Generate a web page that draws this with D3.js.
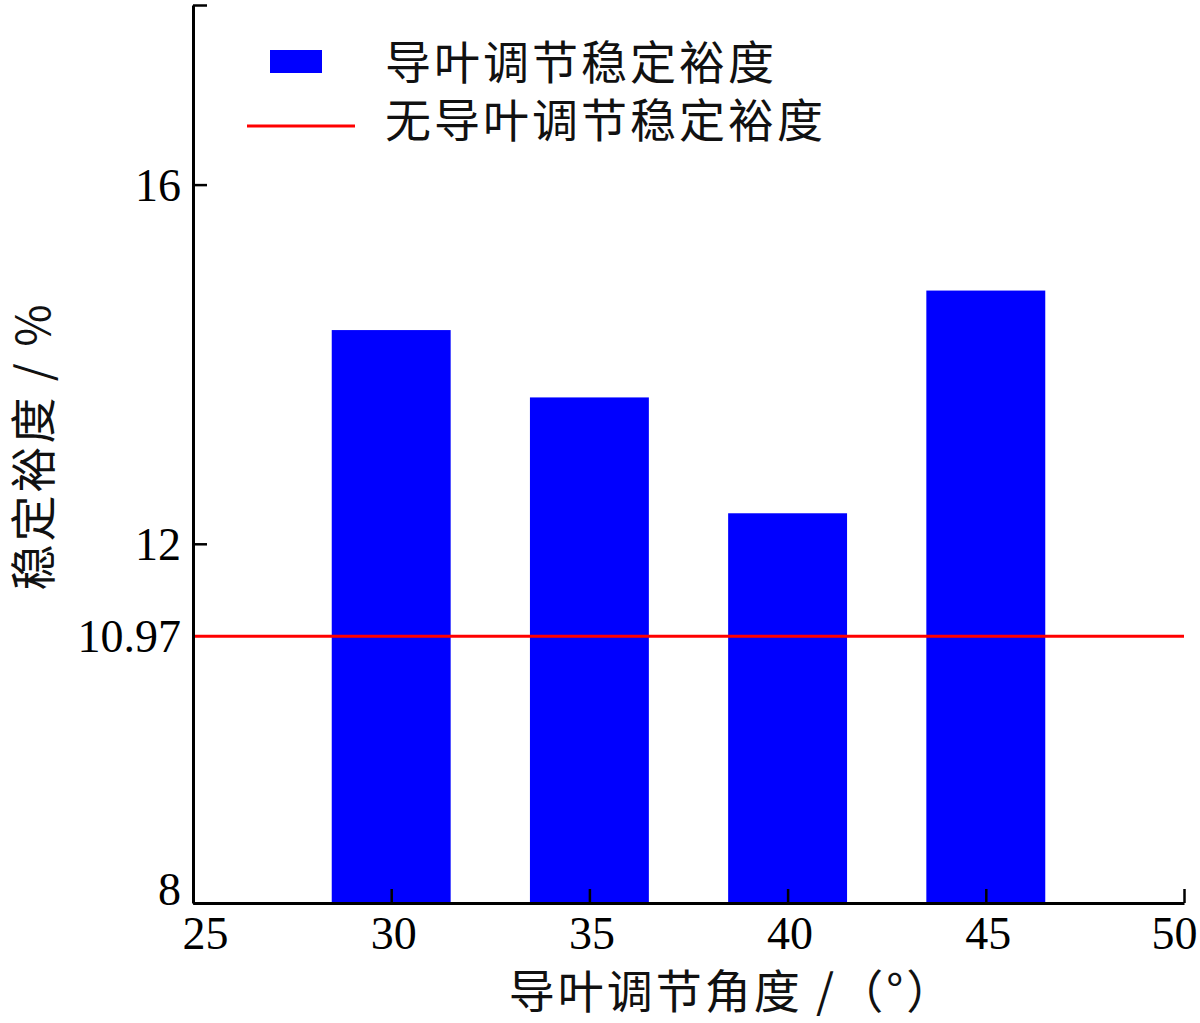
<!DOCTYPE html>
<html><head><meta charset="utf-8">
<script src="https://cdn.jsdelivr.net/npm/d3@7"></script>
<style>body{margin:0;background:#fff}</style>
</head><body>
<svg id="c" width="1200" height="1023"></svg>
<script>
const angles = [30, 35, 40, 45];
const margins = [14.38, 13.63, 12.34, 14.82];
const baseline = 10.97;
const xTicks = [25, 30, 35, 40, 45, 50];
const yTicks = [8, 12, 16, 18];
const yLabels = [8, 10.97, 12, 16];
const seriesNames = ["导叶调节稳定裕度", "无导叶调节稳定裕度"];

const svg = d3.select("#c");
const L = 193, R = 1184, T = 5, B = 903;
const x = d3.scaleLinear().domain([25, 50]).range([L, R]);
const y = d3.scaleLinear().domain([8, 18]).range([B, T]);
const barW = x(28) - x(25);
const serif = "'Liberation Serif','Times New Roman',serif";
const cjk = "'Noto Sans CJK SC',sans-serif";

// bars
svg.selectAll("rect.bar").data(angles).enter().append("rect")
  .attr("x", (d) => x(d) - barW / 2)
  .attr("y", (d, i) => y(margins[i]))
  .attr("width", barW)
  .attr("height", (d, i) => y(8) - y(margins[i]))
  .attr("fill", "#0000ff");

// baseline
svg.append("line").attr("x1", x(25)).attr("x2", x(50))
  .attr("y1", y(baseline)).attr("y2", y(baseline))
  .attr("stroke", "#ff0000").attr("stroke-width", 3);

// axes
const xAxis = d3.axisBottom(x).tickValues(xTicks).tickSize(-14).tickSizeOuter(0).tickFormat(d3.format("d"));
const gx = svg.append("g").attr("transform", `translate(0,${B})`).call(xAxis);
gx.select(".domain").attr("stroke", "#000").attr("stroke-width", 3);
gx.selectAll(".tick line").attr("stroke", "#000").attr("stroke-width", 2.5);
gx.selectAll(".tick text").attr("font-family", serif).attr("font-size", 46).attr("fill", "#000")
  .attr("dy", "0.92em").attr("y", 4)
  .attr("dx", d => d === 25 ? 12 : d === 50 ? -10 : 2);

const yAxis = d3.axisLeft(y).tickValues(yTicks).tickSize(-14).tickSizeOuter(0).tickFormat("");
const gy = svg.append("g").attr("transform", `translate(${L},0)`).call(yAxis);
gy.select(".domain").attr("stroke", "#000").attr("stroke-width", 3);
gy.selectAll(".tick line").attr("stroke", "#000").attr("stroke-width", 2.5);

svg.selectAll("text.yl").data(yLabels).enter().append("text")
  .attr("x", 181).attr("y", d => y(d) - (d === 8 ? 14 : 0)).attr("dy", "0.35em")
  .attr("text-anchor", "end").attr("font-family", serif).attr("font-size", 46)
  .text(d => d);

// axis titles
svg.append("text").attr("x", 732).attr("y", 1008).attr("text-anchor", "middle")
  .attr("font-family", cjk).attr("font-size", 46).attr("letter-spacing", 3).attr("fill", "#111").text("导叶调节角度 /（°）");
svg.append("text").attr("transform", "translate(50,446) rotate(-90)").attr("text-anchor", "middle")
  .attr("font-family", cjk).attr("font-size", 46).attr("letter-spacing", 3).attr("fill", "#111").text("稳定裕度 / %");

// legend
svg.append("rect").attr("x", 270).attr("y", 50).attr("width", 52).attr("height", 23).attr("fill", "#0000ff");
svg.append("line").attr("x1", 247).attr("x2", 355).attr("y1", 126).attr("y2", 126).attr("stroke", "#ff0000").attr("stroke-width", 3);
svg.append("text").attr("x", 385).attr("y", 62).attr("dy", "0.36em").attr("font-family", cjk).attr("font-size", 46).attr("letter-spacing", 3).attr("fill", "#111").text(seriesNames[0]);
svg.append("text").attr("x", 385).attr("y", 120).attr("dy", "0.36em").attr("font-family", cjk).attr("font-size", 46).attr("letter-spacing", 3).attr("fill", "#111").text(seriesNames[1]);
</script>
</body></html>
